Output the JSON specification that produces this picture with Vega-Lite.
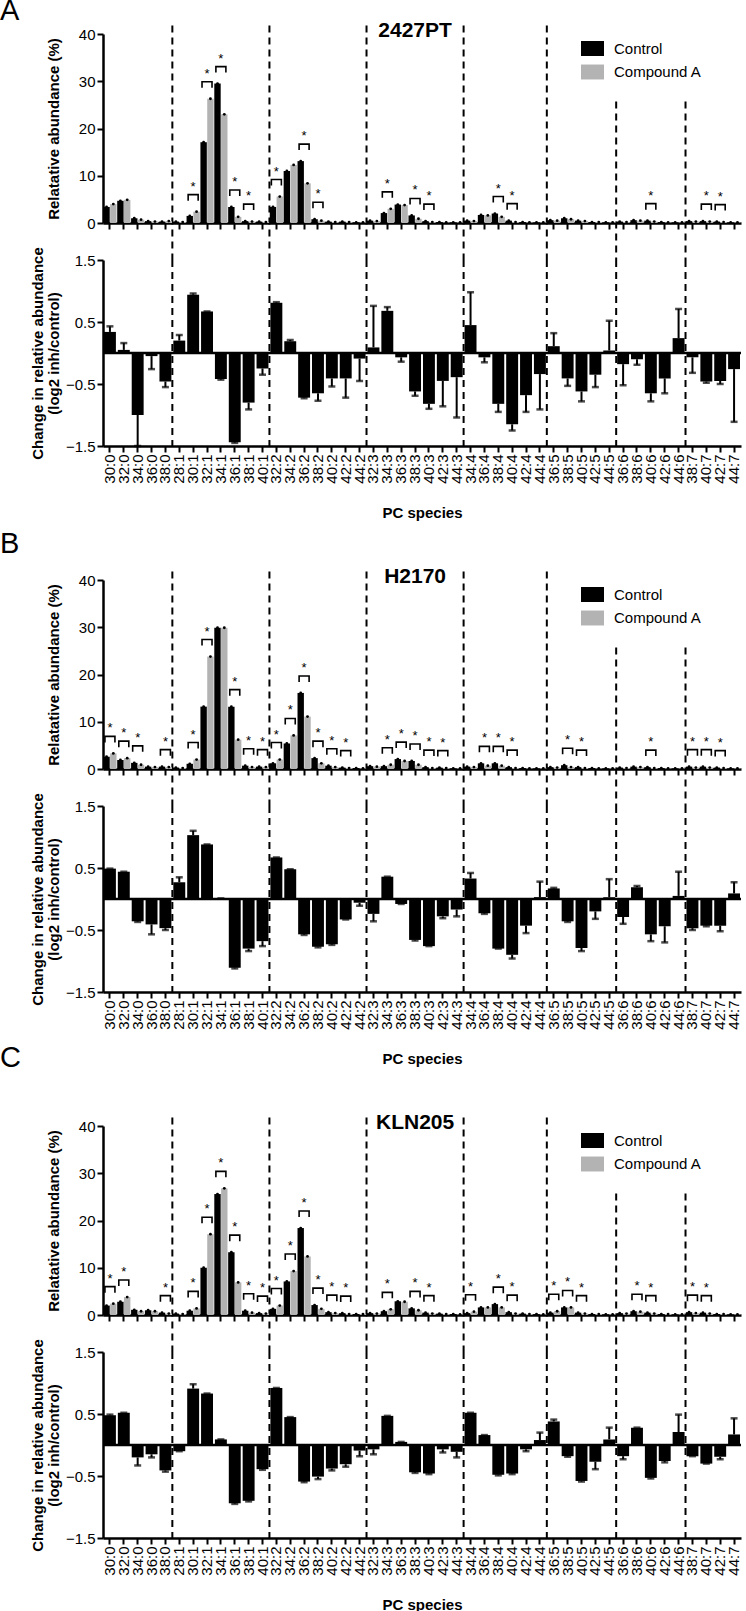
{
"$schema":"https://vega.github.io/schema/vega-lite/v6.json",
"padding":{"top":-4,"left":0,"right":0,"bottom":0},
"background":"white",
"datasets":{
"div":[{"s":"28:1","t":41.8},{"s":"32:2","t":41.8},{"s":"32:3","t":41.8},{"s":"34:4","t":41.8},{"s":"36:5","t":41.8},{"s":"36:6","t":25.7},{"s":"38:7","t":25.7}],
"top":[
{"p":"A","s":"30:0","Control":3.4,"Compound A":4.0,"sig":0},{"p":"A","s":"32:0","Control":4.7,"Compound A":4.9,"sig":0},{"p":"A","s":"34:0","Control":1.0,"Compound A":0.7,"sig":0},{"p":"A","s":"36:0","Control":0.4,"Compound A":0.3,"sig":0},{"p":"A","s":"38:0","Control":0.3,"Compound A":0.4,"sig":0},
{"p":"A","s":"28:1","Control":0.3,"Compound A":0.2,"sig":0},{"p":"A","s":"30:1","Control":1.5,"Compound A":2.4,"sig":1},{"p":"A","s":"32:1","Control":17.1,"Compound A":26.3,"sig":1},{"p":"A","s":"34:1","Control":29.5,"Compound A":23.0,"sig":1},{"p":"A","s":"36:1","Control":3.4,"Compound A":1.3,"sig":1},{"p":"A","s":"38:1","Control":0.4,"Compound A":0.3,"sig":1},{"p":"A","s":"40:1","Control":0.3,"Compound A":0.2,"sig":0},
{"p":"A","s":"32:2","Control":3.4,"Compound A":5.6,"sig":1},{"p":"A","s":"34:2","Control":11.0,"Compound A":12.3,"sig":0},{"p":"A","s":"36:2","Control":13.1,"Compound A":8.4,"sig":1},{"p":"A","s":"38:2","Control":0.8,"Compound A":0.5,"sig":1},{"p":"A","s":"40:2","Control":0.3,"Compound A":0.2,"sig":0},{"p":"A","s":"42:2","Control":0.3,"Compound A":0.2,"sig":0},{"p":"A","s":"44:2","Control":0.1,"Compound A":0.1,"sig":0},
{"p":"A","s":"32:3","Control":0.5,"Compound A":0.4,"sig":0},{"p":"A","s":"34:3","Control":2.1,"Compound A":3.0,"sig":1},{"p":"A","s":"36:3","Control":3.9,"Compound A":3.8,"sig":0},{"p":"A","s":"38:3","Control":1.6,"Compound A":0.9,"sig":1},{"p":"A","s":"40:3","Control":0.4,"Compound A":0.2,"sig":1},{"p":"A","s":"42:3","Control":0.2,"Compound A":0.1,"sig":0},{"p":"A","s":"44:3","Control":0.1,"Compound A":0.1,"sig":0},
{"p":"A","s":"34:4","Control":0.5,"Compound A":0.4,"sig":0},{"p":"A","s":"36:4","Control":1.7,"Compound A":1.6,"sig":0},{"p":"A","s":"38:4","Control":2.0,"Compound A":1.3,"sig":1},{"p":"A","s":"40:4","Control":0.5,"Compound A":0.2,"sig":1},{"p":"A","s":"42:4","Control":0.2,"Compound A":0.1,"sig":0},{"p":"A","s":"44:4","Control":0.1,"Compound A":0.1,"sig":0},
{"p":"A","s":"36:5","Control":0.6,"Compound A":0.5,"sig":0},{"p":"A","s":"38:5","Control":1.0,"Compound A":0.8,"sig":0},{"p":"A","s":"40:5","Control":0.5,"Compound A":0.4,"sig":0},{"p":"A","s":"42:5","Control":0.2,"Compound A":0.2,"sig":0},{"p":"A","s":"44:5","Control":0.1,"Compound A":0.1,"sig":0},
{"p":"A","s":"36:6","Control":0.3,"Compound A":0.2,"sig":0},{"p":"A","s":"38:6","Control":0.6,"Compound A":0.5,"sig":0},{"p":"A","s":"40:6","Control":0.5,"Compound A":0.3,"sig":1},{"p":"A","s":"42:6","Control":0.2,"Compound A":0.1,"sig":0},{"p":"A","s":"44:6","Control":0.1,"Compound A":0.1,"sig":0},
{"p":"A","s":"38:7","Control":0.4,"Compound A":0.3,"sig":0},{"p":"A","s":"40:7","Control":0.4,"Compound A":0.3,"sig":1},{"p":"A","s":"42:7","Control":0.3,"Compound A":0.2,"sig":1},{"p":"A","s":"44:7","Control":0.1,"Compound A":0.1,"sig":0},

{"p":"B","s":"30:0","Control":2.6,"Compound A":3.3,"sig":1},{"p":"B","s":"32:0","Control":1.9,"Compound A":2.3,"sig":1},{"p":"B","s":"34:0","Control":1.3,"Compound A":0.9,"sig":1},{"p":"B","s":"36:0","Control":0.5,"Compound A":0.4,"sig":0},{"p":"B","s":"38:0","Control":0.5,"Compound A":0.4,"sig":1},
{"p":"B","s":"28:1","Control":0.3,"Compound A":0.2,"sig":0},{"p":"B","s":"30:1","Control":1.1,"Compound A":2.0,"sig":1},{"p":"B","s":"32:1","Control":13.2,"Compound A":23.8,"sig":1},{"p":"B","s":"34:1","Control":29.9,"Compound A":29.9,"sig":0},{"p":"B","s":"36:1","Control":13.2,"Compound A":6.2,"sig":1},{"p":"B","s":"38:1","Control":0.7,"Compound A":0.4,"sig":1},{"p":"B","s":"40:1","Control":0.5,"Compound A":0.4,"sig":1},
{"p":"B","s":"32:2","Control":1.2,"Compound A":2.0,"sig":1},{"p":"B","s":"34:2","Control":5.4,"Compound A":7.1,"sig":1},{"p":"B","s":"36:2","Control":16.1,"Compound A":11.1,"sig":1},{"p":"B","s":"38:2","Control":2.3,"Compound A":1.2,"sig":1},{"p":"B","s":"40:2","Control":0.7,"Compound A":0.4,"sig":1},{"p":"B","s":"42:2","Control":0.3,"Compound A":0.2,"sig":1},{"p":"B","s":"44:2","Control":0.2,"Compound A":0.1,"sig":0},
{"p":"B","s":"32:3","Control":0.6,"Compound A":0.5,"sig":0},{"p":"B","s":"34:3","Control":0.6,"Compound A":0.9,"sig":1},{"p":"B","s":"36:3","Control":2.1,"Compound A":1.7,"sig":1},{"p":"B","s":"38:3","Control":1.7,"Compound A":0.9,"sig":1},{"p":"B","s":"40:3","Control":0.4,"Compound A":0.2,"sig":1},{"p":"B","s":"42:3","Control":0.3,"Compound A":0.2,"sig":1},{"p":"B","s":"44:3","Control":0.1,"Compound A":0.1,"sig":0},
{"p":"B","s":"34:4","Control":0.5,"Compound A":0.4,"sig":0},{"p":"B","s":"36:4","Control":1.2,"Compound A":0.7,"sig":1},{"p":"B","s":"38:4","Control":1.2,"Compound A":0.7,"sig":1},{"p":"B","s":"40:4","Control":0.4,"Compound A":0.2,"sig":1},{"p":"B","s":"42:4","Control":0.2,"Compound A":0.1,"sig":0},{"p":"B","s":"44:4","Control":0.1,"Compound A":0.1,"sig":0},
{"p":"B","s":"36:5","Control":0.4,"Compound A":0.3,"sig":0},{"p":"B","s":"38:5","Control":0.8,"Compound A":0.4,"sig":1},{"p":"B","s":"40:5","Control":0.4,"Compound A":0.2,"sig":1},{"p":"B","s":"42:5","Control":0.2,"Compound A":0.1,"sig":0},{"p":"B","s":"44:5","Control":0.1,"Compound A":0.1,"sig":0},
{"p":"B","s":"36:6","Control":0.3,"Compound A":0.2,"sig":0},{"p":"B","s":"38:6","Control":0.5,"Compound A":0.4,"sig":0},{"p":"B","s":"40:6","Control":0.4,"Compound A":0.2,"sig":1},{"p":"B","s":"42:6","Control":0.2,"Compound A":0.1,"sig":0},{"p":"B","s":"44:6","Control":0.1,"Compound A":0.1,"sig":0},
{"p":"B","s":"38:7","Control":0.5,"Compound A":0.3,"sig":1},{"p":"B","s":"40:7","Control":0.5,"Compound A":0.3,"sig":1},{"p":"B","s":"42:7","Control":0.3,"Compound A":0.2,"sig":1},{"p":"B","s":"44:7","Control":0.1,"Compound A":0.1,"sig":0},

{"p":"C","s":"30:0","Control":2.0,"Compound A":2.4,"sig":1},{"p":"C","s":"32:0","Control":2.8,"Compound A":3.8,"sig":1},{"p":"C","s":"34:0","Control":1.1,"Compound A":0.8,"sig":0},{"p":"C","s":"36:0","Control":1.0,"Compound A":0.8,"sig":0},{"p":"C","s":"38:0","Control":0.5,"Compound A":0.3,"sig":1},
{"p":"C","s":"28:1","Control":0.3,"Compound A":0.2,"sig":0},{"p":"C","s":"30:1","Control":0.9,"Compound A":1.4,"sig":1},{"p":"C","s":"32:1","Control":10.0,"Compound A":17.1,"sig":1},{"p":"C","s":"34:1","Control":25.6,"Compound A":26.8,"sig":1},{"p":"C","s":"36:1","Control":13.3,"Compound A":6.9,"sig":1},{"p":"C","s":"38:1","Control":0.9,"Compound A":0.5,"sig":1},{"p":"C","s":"40:1","Control":0.4,"Compound A":0.3,"sig":1},
{"p":"C","s":"32:2","Control":1.3,"Compound A":2.0,"sig":1},{"p":"C","s":"34:2","Control":7.1,"Compound A":9.3,"sig":1},{"p":"C","s":"36:2","Control":18.4,"Compound A":12.4,"sig":1},{"p":"C","s":"38:2","Control":2.1,"Compound A":1.3,"sig":1},{"p":"C","s":"40:2","Control":0.6,"Compound A":0.4,"sig":1},{"p":"C","s":"42:2","Control":0.4,"Compound A":0.2,"sig":1},{"p":"C","s":"44:2","Control":0.2,"Compound A":0.2,"sig":0},
{"p":"C","s":"32:3","Control":0.4,"Compound A":0.3,"sig":0},{"p":"C","s":"34:3","Control":0.8,"Compound A":1.2,"sig":1},{"p":"C","s":"36:3","Control":2.9,"Compound A":2.8,"sig":0},{"p":"C","s":"38:3","Control":1.4,"Compound A":1.0,"sig":1},{"p":"C","s":"40:3","Control":0.5,"Compound A":0.3,"sig":1},{"p":"C","s":"42:3","Control":0.3,"Compound A":0.2,"sig":0},{"p":"C","s":"44:3","Control":0.2,"Compound A":0.1,"sig":0},
{"p":"C","s":"34:4","Control":0.4,"Compound A":0.7,"sig":1},{"p":"C","s":"36:4","Control":1.6,"Compound A":1.6,"sig":0},{"p":"C","s":"38:4","Control":2.3,"Compound A":1.6,"sig":1},{"p":"C","s":"40:4","Control":0.6,"Compound A":0.3,"sig":1},{"p":"C","s":"42:4","Control":0.3,"Compound A":0.2,"sig":0},{"p":"C","s":"44:4","Control":0.2,"Compound A":0.1,"sig":0},
{"p":"C","s":"36:5","Control":0.5,"Compound A":0.8,"sig":1},{"p":"C","s":"38:5","Control":1.6,"Compound A":1.6,"sig":1},{"p":"C","s":"40:5","Control":0.5,"Compound A":0.3,"sig":1},{"p":"C","s":"42:5","Control":0.2,"Compound A":0.2,"sig":0},{"p":"C","s":"44:5","Control":0.1,"Compound A":0.1,"sig":0},
{"p":"C","s":"36:6","Control":0.4,"Compound A":0.3,"sig":0},{"p":"C","s":"38:6","Control":0.8,"Compound A":0.7,"sig":1},{"p":"C","s":"40:6","Control":0.5,"Compound A":0.3,"sig":1},{"p":"C","s":"42:6","Control":0.2,"Compound A":0.2,"sig":0},{"p":"C","s":"44:6","Control":0.1,"Compound A":0.1,"sig":0},
{"p":"C","s":"38:7","Control":0.6,"Compound A":0.4,"sig":1},{"p":"C","s":"40:7","Control":0.5,"Compound A":0.3,"sig":1},{"p":"C","s":"42:7","Control":0.2,"Compound A":0.2,"sig":0},{"p":"C","s":"44:7","Control":0.1,"Compound A":0.1,"sig":0}
],
"chg":[
{"p":"A","s":"30:0","v":0.34,"e":0.43},{"p":"A","s":"32:0","v":0.05,"e":0.16},{"p":"A","s":"34:0","v":-1.0,"e":-1.5},{"p":"A","s":"36:0","v":-0.05,"e":-0.26},{"p":"A","s":"38:0","v":-0.46,"e":-0.55},
{"p":"A","s":"28:1","v":0.2,"e":0.29},{"p":"A","s":"30:1","v":0.94,"e":0.96},{"p":"A","s":"32:1","v":0.67,"e":0.67},{"p":"A","s":"34:1","v":-0.42,"e":-0.43},{"p":"A","s":"36:1","v":-1.44,"e":-1.45},{"p":"A","s":"38:1","v":-0.8,"e":-0.91},{"p":"A","s":"40:1","v":-0.25,"e":-0.35},
{"p":"A","s":"32:2","v":0.81,"e":0.82},{"p":"A","s":"34:2","v":0.19,"e":0.21},{"p":"A","s":"36:2","v":-0.72,"e":-0.73},{"p":"A","s":"38:2","v":-0.65,"e":-0.77},{"p":"A","s":"40:2","v":-0.41,"e":-0.54},{"p":"A","s":"42:2","v":-0.41,"e":-0.72},{"p":"A","s":"44:2","v":-0.09,"e":-0.45},
{"p":"A","s":"32:3","v":0.09,"e":0.76},{"p":"A","s":"34:3","v":0.68,"e":0.74},{"p":"A","s":"36:3","v":-0.07,"e":-0.14},{"p":"A","s":"38:3","v":-0.62,"e":-0.69},{"p":"A","s":"40:3","v":-0.82,"e":-0.9},{"p":"A","s":"42:3","v":-0.45,"e":-0.86},{"p":"A","s":"44:3","v":-0.39,"e":-1.04},
{"p":"A","s":"34:4","v":0.45,"e":0.98},{"p":"A","s":"36:4","v":-0.07,"e":-0.15},{"p":"A","s":"38:4","v":-0.82,"e":-0.95},{"p":"A","s":"40:4","v":-1.15,"e":-1.25},{"p":"A","s":"42:4","v":-0.68,"e":-0.95},{"p":"A","s":"44:4","v":-0.34,"e":-0.91},
{"p":"A","s":"36:5","v":0.11,"e":0.32},{"p":"A","s":"38:5","v":-0.41,"e":-0.53},{"p":"A","s":"40:5","v":-0.62,"e":-0.78},{"p":"A","s":"42:5","v":-0.35,"e":-0.55},{"p":"A","s":"44:5","v":0.04,"e":0.52},
{"p":"A","s":"36:6","v":-0.18,"e":-0.52},{"p":"A","s":"38:6","v":-0.1,"e":-0.19},{"p":"A","s":"40:6","v":-0.65,"e":-0.78},{"p":"A","s":"42:6","v":-0.41,"e":-0.65},{"p":"A","s":"44:6","v":0.24,"e":0.71},
{"p":"A","s":"38:7","v":-0.07,"e":-0.32},{"p":"A","s":"40:7","v":-0.46,"e":-0.48},{"p":"A","s":"42:7","v":-0.45,"e":-0.5},{"p":"A","s":"44:7","v":-0.26,"e":-1.11},

{"p":"B","s":"30:0","v":0.49,"e":0.49},{"p":"B","s":"32:0","v":0.44,"e":0.44},{"p":"B","s":"34:0","v":-0.36,"e":-0.37},{"p":"B","s":"36:0","v":-0.41,"e":-0.57},{"p":"B","s":"38:0","v":-0.47,"e":-0.5},
{"p":"B","s":"28:1","v":0.27,"e":0.35},{"p":"B","s":"30:1","v":1.03,"e":1.1},{"p":"B","s":"32:1","v":0.88,"e":0.88},{"p":"B","s":"34:1","v":0.01,"e":0.01},{"p":"B","s":"36:1","v":-1.11,"e":-1.12},{"p":"B","s":"38:1","v":-0.8,"e":-0.84},{"p":"B","s":"40:1","v":-0.68,"e":-0.76},
{"p":"B","s":"32:2","v":0.67,"e":0.67},{"p":"B","s":"34:2","v":0.48,"e":0.48},{"p":"B","s":"36:2","v":-0.57,"e":-0.58},{"p":"B","s":"38:2","v":-0.77,"e":-0.78},{"p":"B","s":"40:2","v":-0.73,"e":-0.74},{"p":"B","s":"42:2","v":-0.33,"e":-0.33},{"p":"B","s":"44:2","v":-0.06,"e":-0.11},
{"p":"B","s":"32:3","v":-0.24,"e":-0.36},{"p":"B","s":"34:3","v":0.36,"e":0.36},{"p":"B","s":"36:3","v":-0.08,"e":-0.08},{"p":"B","s":"38:3","v":-0.66,"e":-0.67},{"p":"B","s":"40:3","v":-0.76,"e":-0.76},{"p":"B","s":"42:3","v":-0.28,"e":-0.31},{"p":"B","s":"44:3","v":-0.17,"e":-0.28},
{"p":"B","s":"34:4","v":0.33,"e":0.42},{"p":"B","s":"36:4","v":-0.23,"e":-0.24},{"p":"B","s":"38:4","v":-0.8,"e":-0.8},{"p":"B","s":"40:4","v":-0.9,"e":-0.96},{"p":"B","s":"42:4","v":-0.43,"e":-0.55},{"p":"B","s":"44:4","v":0.03,"e":0.28},
{"p":"B","s":"36:5","v":0.17,"e":0.18},{"p":"B","s":"38:5","v":-0.36,"e":-0.37},{"p":"B","s":"40:5","v":-0.79,"e":-0.84},{"p":"B","s":"42:5","v":-0.2,"e":-0.32},{"p":"B","s":"44:5","v":0.03,"e":0.32},
{"p":"B","s":"36:6","v":-0.29,"e":-0.4},{"p":"B","s":"38:6","v":0.19,"e":0.21},{"p":"B","s":"40:6","v":-0.57,"e":-0.68},{"p":"B","s":"42:6","v":-0.44,"e":-0.7},{"p":"B","s":"44:6","v":0.05,"e":0.44},
{"p":"B","s":"38:7","v":-0.47,"e":-0.5},{"p":"B","s":"40:7","v":-0.43,"e":-0.44},{"p":"B","s":"42:7","v":-0.43,"e":-0.52},{"p":"B","s":"44:7","v":0.09,"e":0.27},

{"p":"C","s":"30:0","v":0.48,"e":0.49},{"p":"C","s":"32:0","v":0.52,"e":0.52},{"p":"C","s":"34:0","v":-0.2,"e":-0.33},{"p":"C","s":"36:0","v":-0.15,"e":-0.2},{"p":"C","s":"38:0","v":-0.41,"e":-0.43},
{"p":"C","s":"28:1","v":-0.1,"e":-0.1},{"p":"C","s":"30:1","v":0.91,"e":0.98},{"p":"C","s":"32:1","v":0.83,"e":0.83},{"p":"C","s":"34:1","v":0.09,"e":0.09},{"p":"C","s":"36:1","v":-0.94,"e":-0.95},{"p":"C","s":"38:1","v":-0.9,"e":-0.91},{"p":"C","s":"40:1","v":-0.39,"e":-0.4},
{"p":"C","s":"32:2","v":0.92,"e":0.92},{"p":"C","s":"34:2","v":0.45,"e":0.45},{"p":"C","s":"36:2","v":-0.59,"e":-0.6},{"p":"C","s":"38:2","v":-0.51,"e":-0.55},{"p":"C","s":"40:2","v":-0.38,"e":-0.41},{"p":"C","s":"42:2","v":-0.31,"e":-0.35},{"p":"C","s":"44:2","v":-0.09,"e":-0.18},
{"p":"C","s":"32:3","v":-0.07,"e":-0.15},{"p":"C","s":"34:3","v":0.47,"e":0.47},{"p":"C","s":"36:3","v":0.05,"e":0.05},{"p":"C","s":"38:3","v":-0.44,"e":-0.45},{"p":"C","s":"40:3","v":-0.46,"e":-0.47},{"p":"C","s":"42:3","v":-0.07,"e":-0.12},{"p":"C","s":"44:3","v":-0.11,"e":-0.2},
{"p":"C","s":"34:4","v":0.52,"e":0.52},{"p":"C","s":"36:4","v":0.16,"e":0.16},{"p":"C","s":"38:4","v":-0.48,"e":-0.49},{"p":"C","s":"40:4","v":-0.46,"e":-0.47},{"p":"C","s":"42:4","v":-0.07,"e":-0.1},{"p":"C","s":"44:4","v":0.08,"e":0.2},
{"p":"C","s":"36:5","v":0.38,"e":0.41},{"p":"C","s":"38:5","v":-0.18,"e":-0.19},{"p":"C","s":"40:5","v":-0.58,"e":-0.59},{"p":"C","s":"42:5","v":-0.27,"e":-0.39},{"p":"C","s":"44:5","v":0.09,"e":0.28},
{"p":"C","s":"36:6","v":-0.18,"e":-0.23},{"p":"C","s":"38:6","v":0.28,"e":0.28},{"p":"C","s":"40:6","v":-0.53,"e":-0.54},{"p":"C","s":"42:6","v":-0.26,"e":-0.28},{"p":"C","s":"44:6","v":0.21,"e":0.49},
{"p":"C","s":"38:7","v":-0.18,"e":-0.18},{"p":"C","s":"40:7","v":-0.3,"e":-0.3},{"p":"C","s":"42:7","v":-0.19,"e":-0.23},{"p":"C","s":"44:7","v":0.17,"e":0.43}
]
},
"spacing":37,
"bounds":"flush",
"resolve":{"scale":{"x":"independent","y":"independent","color":"independent"},"legend":{"color":"independent"}},
"vconcat":[
 {"width":638,"height":189,
  "title":{"text":"A","anchor":"start","frame":"group","fontSize":29,"fontWeight":"normal","dx":-103,"offset":-6},
  "encoding":{"x":{"field":"s","type":"nominal","sort":null,"scale":{"domain":["30:0","32:0","34:0","36:0","38:0","28:1","30:1","32:1","34:1","36:1","38:1","40:1","32:2","34:2","36:2","38:2","40:2","42:2","44:2","32:3","34:3","36:3","38:3","40:3","42:3","44:3","34:4","36:4","38:4","40:4","42:4","44:4","36:5","38:5","40:5","42:5","44:5","36:6","38:6","40:6","42:6","44:6","38:7","40:7","42:7","44:7"],"paddingInner":0,"paddingOuter":0},"axis":{"labels":false,"title":null}}},
  "layer":[
   {"data":{"name":"div"},"mark":{"type":"rule","strokeDash":[7,5],"strokeWidth":2,"color":"#000"},
    "encoding":{"x":{"field":"s","type":"nominal","sort":null,"bandPosition":0,"scale":{"domain":["30:0","32:0","34:0","36:0","38:0","28:1","30:1","32:1","34:1","36:1","38:1","40:1","32:2","34:2","36:2","38:2","40:2","42:2","44:2","32:3","34:3","36:3","38:3","40:3","42:3","44:3","34:4","36:4","38:4","40:4","42:4","44:4","36:5","38:5","40:5","42:5","44:5","36:6","38:6","40:6","42:6","44:6","38:7","40:7","42:7","44:7"],"paddingInner":0,"paddingOuter":0}},
     "y":{"field":"t","type":"quantitative","scale":{"domain":[0,40],"nice":false}},"y2":{"datum":-7.83}}},
   {"data":{"name":"top"},"transform":[{"filter":"datum.p==='A'"},{"fold":["Control","Compound A"],"as":["g","v"]}],
    "mark":{"type":"bar"},
    "encoding":{"xOffset":{"field":"g","type":"nominal","scale":{"domain":["Control","Compound A"],"paddingInner":0.06,"paddingOuter":0.05}},
     "y":{"field":"v","type":"quantitative","scale":{"domain":[0,40],"nice":false},"axis":{"values":[0,10,20,30,40],"title":"Relatative abundance (%)","titlePadding":17,"labelOverlap":false}},
     "color":{"field":"g","type":"nominal","scale":{"domain":["Control","Compound A"],"range":["#000000","#b3b3b3"]},"legend":{"title":null,"orient":"none","legendX":478,"legendY":3,"symbolType":"M-1,-0.65H1V0.65H-1Z","symbolSize":529,"labelFontSize":15,"labelOffset":10,"rowPadding":3.5,"symbolStrokeWidth":0}}}},
   {"data":{"name":"top"},"transform":[{"filter":"datum.p==='A'"},{"fold":["Control","Compound A"],"as":["g","v"]}],
    "mark":{"type":"point","filled":true,"size":8,"color":"#000","opacity":1},
    "encoding":{"xOffset":{"field":"g","type":"nominal","scale":{"domain":["Control","Compound A"],"paddingInner":0.06,"paddingOuter":0.05}},
     "y":{"field":"v","type":"quantitative","scale":{"domain":[0,40],"nice":false}}}},
   {"data":{"name":"top"},"transform":[{"filter":"datum.p==='A' && datum.sig==1"},{"fold":["Control","Compound A"],"as":["g","v"]},{"aggregate":[{"op":"max","field":"v","as":"m"}],"groupby":["s"]}],
    "mark":{"type":"point","shape":"M-1,1V-0.2H1V1","filled":false,"color":"#000","strokeWidth":1.6,"size":100,"yOffset":-16,"opacity":1},
    "encoding":{"y":{"field":"m","type":"quantitative","scale":{"domain":[0,40],"nice":false}}}},
   {"data":{"name":"top"},"transform":[{"filter":"datum.p==='A' && datum.sig==1"},{"fold":["Control","Compound A"],"as":["g","v"]},{"aggregate":[{"op":"max","field":"v","as":"m"}],"groupby":["s"]}],
    "mark":{"type":"text","text":"*","fontSize":13,"baseline":"alphabetic","dy":-21,"color":"#000"},
    "encoding":{"y":{"field":"m","type":"quantitative","scale":{"domain":[0,40],"nice":false}}}},
   {"data":{"values":[{"s":"38:3","n":"2427PT"}]},
    "mark":{"type":"text","fontSize":21,"fontWeight":"bold","baseline":"alphabetic","dy":2.5,"color":"#000"},
    "encoding":{"text":{"field":"n"},"y":{"datum":40,"type":"quantitative","scale":{"domain":[0,40],"nice":false}}}}
  ]},
 {"width":638,"height":186,
  "layer":[
   {"data":{"name":"div"},"mark":{"type":"rule","strokeDash":[7,5],"strokeWidth":2,"color":"#000"},
    "encoding":{"x":{"field":"s","type":"nominal","sort":null,"bandPosition":0,"scale":{"domain":["30:0","32:0","34:0","36:0","38:0","28:1","30:1","32:1","34:1","36:1","38:1","40:1","32:2","34:2","36:2","38:2","40:2","42:2","44:2","32:3","34:3","36:3","38:3","40:3","42:3","44:3","34:4","36:4","38:4","40:4","42:4","44:4","36:5","38:5","40:5","42:5","44:5","36:6","38:6","40:6","42:6","44:6","38:7","40:7","42:7","44:7"],"paddingInner":0,"paddingOuter":0}},
     "y":{"datum":1.5,"type":"quantitative","scale":{"domain":[-1.5,1.5],"nice":false}},"y2":{"datum":-1.55}}},
   {"data":{"name":"chg"},"transform":[{"filter":"datum.p==='A'"}],"mark":{"type":"bar","color":"#000","width":{"band":0.86}},
    "encoding":{"x":{"field":"s","type":"nominal","sort":null,"scale":{"domain":["30:0","32:0","34:0","36:0","38:0","28:1","30:1","32:1","34:1","36:1","38:1","40:1","32:2","34:2","36:2","38:2","40:2","42:2","44:2","32:3","34:3","36:3","38:3","40:3","42:3","44:3","34:4","36:4","38:4","40:4","42:4","44:4","36:5","38:5","40:5","42:5","44:5","36:6","38:6","40:6","42:6","44:6","38:7","40:7","42:7","44:7"],"paddingInner":0,"paddingOuter":0},"axis":{"labelAngle":270,"labelOverlap":false,"title":"PC species","titlePadding":22}},
     "y":{"field":"v","type":"quantitative","scale":{"domain":[-1.5,1.5],"nice":false},"axis":{"values":[-1.5,-1,-0.5,0,0.5,1,1.5],"format":".1f","labelOverlap":false,"title":["Change in relative abundance","(log2 inh/control)"],"titlePadding":4,"titleLineHeight":16}}}},
   {"data":{"name":"chg"},"transform":[{"filter":"datum.p==='A'"}],"mark":{"type":"rule","color":"#000","strokeWidth":2},
    "encoding":{"x":{"field":"s","type":"nominal","sort":null,"scale":{"domain":["30:0","32:0","34:0","36:0","38:0","28:1","30:1","32:1","34:1","36:1","38:1","40:1","32:2","34:2","36:2","38:2","40:2","42:2","44:2","32:3","34:3","36:3","38:3","40:3","42:3","44:3","34:4","36:4","38:4","40:4","42:4","44:4","36:5","38:5","40:5","42:5","44:5","36:6","38:6","40:6","42:6","44:6","38:7","40:7","42:7","44:7"],"paddingInner":0,"paddingOuter":0}},
     "y":{"field":"v","type":"quantitative","scale":{"domain":[-1.5,1.5],"nice":false}},"y2":{"field":"e"}}},
   {"data":{"name":"chg"},"transform":[{"filter":"datum.p==='A'"}],"mark":{"type":"tick","color":"#000","thickness":2.5,"size":7},
    "encoding":{"x":{"field":"s","type":"nominal","sort":null,"scale":{"domain":["30:0","32:0","34:0","36:0","38:0","28:1","30:1","32:1","34:1","36:1","38:1","40:1","32:2","34:2","36:2","38:2","40:2","42:2","44:2","32:3","34:3","36:3","38:3","40:3","42:3","44:3","34:4","36:4","38:4","40:4","42:4","44:4","36:5","38:5","40:5","42:5","44:5","36:6","38:6","40:6","42:6","44:6","38:7","40:7","42:7","44:7"],"paddingInner":0,"paddingOuter":0}},
     "y":{"field":"e","type":"quantitative","scale":{"domain":[-1.5,1.5],"nice":false}}}},
   {"data":{"values":[{}]},"mark":{"type":"rule","color":"#000","strokeWidth":2.5},
    "encoding":{"y":{"datum":0,"type":"quantitative","scale":{"domain":[-1.5,1.5],"nice":false}}}}
  ]},
 {"width":638,"height":60,"data":{"values":[{}]},"mark":{"type":"point","opacity":0},"encoding":{}},
 {"width":638,"height":189,
  "title":{"text":"B","anchor":"start","frame":"group","fontSize":29,"fontWeight":"normal","dx":-103,"offset":7},
  "encoding":{"x":{"field":"s","type":"nominal","sort":null,"scale":{"domain":["30:0","32:0","34:0","36:0","38:0","28:1","30:1","32:1","34:1","36:1","38:1","40:1","32:2","34:2","36:2","38:2","40:2","42:2","44:2","32:3","34:3","36:3","38:3","40:3","42:3","44:3","34:4","36:4","38:4","40:4","42:4","44:4","36:5","38:5","40:5","42:5","44:5","36:6","38:6","40:6","42:6","44:6","38:7","40:7","42:7","44:7"],"paddingInner":0,"paddingOuter":0},"axis":{"labels":false,"title":null}}},
  "layer":[
   {"data":{"name":"div"},"mark":{"type":"rule","strokeDash":[7,5],"strokeWidth":2,"color":"#000"},
    "encoding":{"x":{"field":"s","type":"nominal","sort":null,"bandPosition":0,"scale":{"domain":["30:0","32:0","34:0","36:0","38:0","28:1","30:1","32:1","34:1","36:1","38:1","40:1","32:2","34:2","36:2","38:2","40:2","42:2","44:2","32:3","34:3","36:3","38:3","40:3","42:3","44:3","34:4","36:4","38:4","40:4","42:4","44:4","36:5","38:5","40:5","42:5","44:5","36:6","38:6","40:6","42:6","44:6","38:7","40:7","42:7","44:7"],"paddingInner":0,"paddingOuter":0}},
     "y":{"field":"t","type":"quantitative","scale":{"domain":[0,40],"nice":false}},"y2":{"datum":-7.83}}},
   {"data":{"name":"top"},"transform":[{"filter":"datum.p==='B'"},{"fold":["Control","Compound A"],"as":["g","v"]}],
    "mark":{"type":"bar"},
    "encoding":{"xOffset":{"field":"g","type":"nominal","scale":{"domain":["Control","Compound A"],"paddingInner":0.06,"paddingOuter":0.05}},
     "y":{"field":"v","type":"quantitative","scale":{"domain":[0,40],"nice":false},"axis":{"values":[0,10,20,30,40],"title":"Relatative abundance (%)","titlePadding":17,"labelOverlap":false}},
     "color":{"field":"g","type":"nominal","scale":{"domain":["Control","Compound A"],"range":["#000000","#b3b3b3"]},"legend":{"title":null,"orient":"none","legendX":478,"legendY":3,"symbolType":"M-1,-0.65H1V0.65H-1Z","symbolSize":529,"labelFontSize":15,"labelOffset":10,"rowPadding":3.5,"symbolStrokeWidth":0}}}},
   {"data":{"name":"top"},"transform":[{"filter":"datum.p==='B'"},{"fold":["Control","Compound A"],"as":["g","v"]}],
    "mark":{"type":"point","filled":true,"size":8,"color":"#000","opacity":1},
    "encoding":{"xOffset":{"field":"g","type":"nominal","scale":{"domain":["Control","Compound A"],"paddingInner":0.06,"paddingOuter":0.05}},
     "y":{"field":"v","type":"quantitative","scale":{"domain":[0,40],"nice":false}}}},
   {"data":{"name":"top"},"transform":[{"filter":"datum.p==='B' && datum.sig==1"},{"fold":["Control","Compound A"],"as":["g","v"]},{"aggregate":[{"op":"max","field":"v","as":"m"}],"groupby":["s"]}],
    "mark":{"type":"point","shape":"M-1,1V-0.2H1V1","filled":false,"color":"#000","strokeWidth":1.6,"size":100,"yOffset":-16,"opacity":1},
    "encoding":{"y":{"field":"m","type":"quantitative","scale":{"domain":[0,40],"nice":false}}}},
   {"data":{"name":"top"},"transform":[{"filter":"datum.p==='B' && datum.sig==1"},{"fold":["Control","Compound A"],"as":["g","v"]},{"aggregate":[{"op":"max","field":"v","as":"m"}],"groupby":["s"]}],
    "mark":{"type":"text","text":"*","fontSize":13,"baseline":"alphabetic","dy":-21,"color":"#000"},
    "encoding":{"y":{"field":"m","type":"quantitative","scale":{"domain":[0,40],"nice":false}}}},
   {"data":{"values":[{"s":"38:3","n":"H2170"}]},
    "mark":{"type":"text","fontSize":21,"fontWeight":"bold","baseline":"alphabetic","dy":2.5,"color":"#000"},
    "encoding":{"text":{"field":"n"},"y":{"datum":40,"type":"quantitative","scale":{"domain":[0,40],"nice":false}}}}
  ]},
 {"width":638,"height":186,
  "layer":[
   {"data":{"name":"div"},"mark":{"type":"rule","strokeDash":[7,5],"strokeWidth":2,"color":"#000"},
    "encoding":{"x":{"field":"s","type":"nominal","sort":null,"bandPosition":0,"scale":{"domain":["30:0","32:0","34:0","36:0","38:0","28:1","30:1","32:1","34:1","36:1","38:1","40:1","32:2","34:2","36:2","38:2","40:2","42:2","44:2","32:3","34:3","36:3","38:3","40:3","42:3","44:3","34:4","36:4","38:4","40:4","42:4","44:4","36:5","38:5","40:5","42:5","44:5","36:6","38:6","40:6","42:6","44:6","38:7","40:7","42:7","44:7"],"paddingInner":0,"paddingOuter":0}},
     "y":{"datum":1.5,"type":"quantitative","scale":{"domain":[-1.5,1.5],"nice":false}},"y2":{"datum":-1.55}}},
   {"data":{"name":"chg"},"transform":[{"filter":"datum.p==='B'"}],"mark":{"type":"bar","color":"#000","width":{"band":0.86}},
    "encoding":{"x":{"field":"s","type":"nominal","sort":null,"scale":{"domain":["30:0","32:0","34:0","36:0","38:0","28:1","30:1","32:1","34:1","36:1","38:1","40:1","32:2","34:2","36:2","38:2","40:2","42:2","44:2","32:3","34:3","36:3","38:3","40:3","42:3","44:3","34:4","36:4","38:4","40:4","42:4","44:4","36:5","38:5","40:5","42:5","44:5","36:6","38:6","40:6","42:6","44:6","38:7","40:7","42:7","44:7"],"paddingInner":0,"paddingOuter":0},"axis":{"labelAngle":270,"labelOverlap":false,"title":"PC species","titlePadding":22}},
     "y":{"field":"v","type":"quantitative","scale":{"domain":[-1.5,1.5],"nice":false},"axis":{"values":[-1.5,-1,-0.5,0,0.5,1,1.5],"format":".1f","labelOverlap":false,"title":["Change in relative abundance","(log2 inh/control)"],"titlePadding":4,"titleLineHeight":16}}}},
   {"data":{"name":"chg"},"transform":[{"filter":"datum.p==='B'"}],"mark":{"type":"rule","color":"#000","strokeWidth":2},
    "encoding":{"x":{"field":"s","type":"nominal","sort":null,"scale":{"domain":["30:0","32:0","34:0","36:0","38:0","28:1","30:1","32:1","34:1","36:1","38:1","40:1","32:2","34:2","36:2","38:2","40:2","42:2","44:2","32:3","34:3","36:3","38:3","40:3","42:3","44:3","34:4","36:4","38:4","40:4","42:4","44:4","36:5","38:5","40:5","42:5","44:5","36:6","38:6","40:6","42:6","44:6","38:7","40:7","42:7","44:7"],"paddingInner":0,"paddingOuter":0}},
     "y":{"field":"v","type":"quantitative","scale":{"domain":[-1.5,1.5],"nice":false}},"y2":{"field":"e"}}},
   {"data":{"name":"chg"},"transform":[{"filter":"datum.p==='B'"}],"mark":{"type":"tick","color":"#000","thickness":2.5,"size":7},
    "encoding":{"x":{"field":"s","type":"nominal","sort":null,"scale":{"domain":["30:0","32:0","34:0","36:0","38:0","28:1","30:1","32:1","34:1","36:1","38:1","40:1","32:2","34:2","36:2","38:2","40:2","42:2","44:2","32:3","34:3","36:3","38:3","40:3","42:3","44:3","34:4","36:4","38:4","40:4","42:4","44:4","36:5","38:5","40:5","42:5","44:5","36:6","38:6","40:6","42:6","44:6","38:7","40:7","42:7","44:7"],"paddingInner":0,"paddingOuter":0}},
     "y":{"field":"e","type":"quantitative","scale":{"domain":[-1.5,1.5],"nice":false}}}},
   {"data":{"values":[{}]},"mark":{"type":"rule","color":"#000","strokeWidth":2.5},
    "encoding":{"y":{"datum":0,"type":"quantitative","scale":{"domain":[-1.5,1.5],"nice":false}}}}
  ]},
 {"width":638,"height":60,"data":{"values":[{}]},"mark":{"type":"point","opacity":0},"encoding":{}},
 {"width":638,"height":189,
  "title":{"text":"C","anchor":"start","frame":"group","fontSize":29,"fontWeight":"normal","dx":-103,"dy":-8,"offset":31},
  "encoding":{"x":{"field":"s","type":"nominal","sort":null,"scale":{"domain":["30:0","32:0","34:0","36:0","38:0","28:1","30:1","32:1","34:1","36:1","38:1","40:1","32:2","34:2","36:2","38:2","40:2","42:2","44:2","32:3","34:3","36:3","38:3","40:3","42:3","44:3","34:4","36:4","38:4","40:4","42:4","44:4","36:5","38:5","40:5","42:5","44:5","36:6","38:6","40:6","42:6","44:6","38:7","40:7","42:7","44:7"],"paddingInner":0,"paddingOuter":0},"axis":{"labels":false,"title":null}}},
  "layer":[
   {"data":{"name":"div"},"mark":{"type":"rule","strokeDash":[7,5],"strokeWidth":2,"color":"#000"},
    "encoding":{"x":{"field":"s","type":"nominal","sort":null,"bandPosition":0,"scale":{"domain":["30:0","32:0","34:0","36:0","38:0","28:1","30:1","32:1","34:1","36:1","38:1","40:1","32:2","34:2","36:2","38:2","40:2","42:2","44:2","32:3","34:3","36:3","38:3","40:3","42:3","44:3","34:4","36:4","38:4","40:4","42:4","44:4","36:5","38:5","40:5","42:5","44:5","36:6","38:6","40:6","42:6","44:6","38:7","40:7","42:7","44:7"],"paddingInner":0,"paddingOuter":0}},
     "y":{"field":"t","type":"quantitative","scale":{"domain":[0,40],"nice":false}},"y2":{"datum":-7.83}}},
   {"data":{"name":"top"},"transform":[{"filter":"datum.p==='C'"},{"fold":["Control","Compound A"],"as":["g","v"]}],
    "mark":{"type":"bar"},
    "encoding":{"xOffset":{"field":"g","type":"nominal","scale":{"domain":["Control","Compound A"],"paddingInner":0.06,"paddingOuter":0.05}},
     "y":{"field":"v","type":"quantitative","scale":{"domain":[0,40],"nice":false},"axis":{"values":[0,10,20,30,40],"title":"Relatative abundance (%)","titlePadding":17,"labelOverlap":false}},
     "color":{"field":"g","type":"nominal","scale":{"domain":["Control","Compound A"],"range":["#000000","#b3b3b3"]},"legend":{"title":null,"orient":"none","legendX":478,"legendY":3,"symbolType":"M-1,-0.65H1V0.65H-1Z","symbolSize":529,"labelFontSize":15,"labelOffset":10,"rowPadding":3.5,"symbolStrokeWidth":0}}}},
   {"data":{"name":"top"},"transform":[{"filter":"datum.p==='C'"},{"fold":["Control","Compound A"],"as":["g","v"]}],
    "mark":{"type":"point","filled":true,"size":8,"color":"#000","opacity":1},
    "encoding":{"xOffset":{"field":"g","type":"nominal","scale":{"domain":["Control","Compound A"],"paddingInner":0.06,"paddingOuter":0.05}},
     "y":{"field":"v","type":"quantitative","scale":{"domain":[0,40],"nice":false}}}},
   {"data":{"name":"top"},"transform":[{"filter":"datum.p==='C' && datum.sig==1"},{"fold":["Control","Compound A"],"as":["g","v"]},{"aggregate":[{"op":"max","field":"v","as":"m"}],"groupby":["s"]}],
    "mark":{"type":"point","shape":"M-1,1V-0.2H1V1","filled":false,"color":"#000","strokeWidth":1.6,"size":100,"yOffset":-16,"opacity":1},
    "encoding":{"y":{"field":"m","type":"quantitative","scale":{"domain":[0,40],"nice":false}}}},
   {"data":{"name":"top"},"transform":[{"filter":"datum.p==='C' && datum.sig==1"},{"fold":["Control","Compound A"],"as":["g","v"]},{"aggregate":[{"op":"max","field":"v","as":"m"}],"groupby":["s"]}],
    "mark":{"type":"text","text":"*","fontSize":13,"baseline":"alphabetic","dy":-21,"color":"#000"},
    "encoding":{"y":{"field":"m","type":"quantitative","scale":{"domain":[0,40],"nice":false}}}},
   {"data":{"values":[{"s":"38:3","n":"KLN205"}]},
    "mark":{"type":"text","fontSize":21,"fontWeight":"bold","baseline":"alphabetic","dy":2.5,"color":"#000"},
    "encoding":{"text":{"field":"n"},"y":{"datum":40,"type":"quantitative","scale":{"domain":[0,40],"nice":false}}}}
  ]},
 {"width":638,"height":186,
  "layer":[
   {"data":{"name":"div"},"mark":{"type":"rule","strokeDash":[7,5],"strokeWidth":2,"color":"#000"},
    "encoding":{"x":{"field":"s","type":"nominal","sort":null,"bandPosition":0,"scale":{"domain":["30:0","32:0","34:0","36:0","38:0","28:1","30:1","32:1","34:1","36:1","38:1","40:1","32:2","34:2","36:2","38:2","40:2","42:2","44:2","32:3","34:3","36:3","38:3","40:3","42:3","44:3","34:4","36:4","38:4","40:4","42:4","44:4","36:5","38:5","40:5","42:5","44:5","36:6","38:6","40:6","42:6","44:6","38:7","40:7","42:7","44:7"],"paddingInner":0,"paddingOuter":0}},
     "y":{"datum":1.5,"type":"quantitative","scale":{"domain":[-1.5,1.5],"nice":false}},"y2":{"datum":-1.55}}},
   {"data":{"name":"chg"},"transform":[{"filter":"datum.p==='C'"}],"mark":{"type":"bar","color":"#000","width":{"band":0.86}},
    "encoding":{"x":{"field":"s","type":"nominal","sort":null,"scale":{"domain":["30:0","32:0","34:0","36:0","38:0","28:1","30:1","32:1","34:1","36:1","38:1","40:1","32:2","34:2","36:2","38:2","40:2","42:2","44:2","32:3","34:3","36:3","38:3","40:3","42:3","44:3","34:4","36:4","38:4","40:4","42:4","44:4","36:5","38:5","40:5","42:5","44:5","36:6","38:6","40:6","42:6","44:6","38:7","40:7","42:7","44:7"],"paddingInner":0,"paddingOuter":0},"axis":{"labelAngle":270,"labelOverlap":false,"title":"PC species","titlePadding":22}},
     "y":{"field":"v","type":"quantitative","scale":{"domain":[-1.5,1.5],"nice":false},"axis":{"values":[-1.5,-1,-0.5,0,0.5,1,1.5],"format":".1f","labelOverlap":false,"title":["Change in relative abundance","(log2 inh/control)"],"titlePadding":4,"titleLineHeight":16}}}},
   {"data":{"name":"chg"},"transform":[{"filter":"datum.p==='C'"}],"mark":{"type":"rule","color":"#000","strokeWidth":2},
    "encoding":{"x":{"field":"s","type":"nominal","sort":null,"scale":{"domain":["30:0","32:0","34:0","36:0","38:0","28:1","30:1","32:1","34:1","36:1","38:1","40:1","32:2","34:2","36:2","38:2","40:2","42:2","44:2","32:3","34:3","36:3","38:3","40:3","42:3","44:3","34:4","36:4","38:4","40:4","42:4","44:4","36:5","38:5","40:5","42:5","44:5","36:6","38:6","40:6","42:6","44:6","38:7","40:7","42:7","44:7"],"paddingInner":0,"paddingOuter":0}},
     "y":{"field":"v","type":"quantitative","scale":{"domain":[-1.5,1.5],"nice":false}},"y2":{"field":"e"}}},
   {"data":{"name":"chg"},"transform":[{"filter":"datum.p==='C'"}],"mark":{"type":"tick","color":"#000","thickness":2.5,"size":7},
    "encoding":{"x":{"field":"s","type":"nominal","sort":null,"scale":{"domain":["30:0","32:0","34:0","36:0","38:0","28:1","30:1","32:1","34:1","36:1","38:1","40:1","32:2","34:2","36:2","38:2","40:2","42:2","44:2","32:3","34:3","36:3","38:3","40:3","42:3","44:3","34:4","36:4","38:4","40:4","42:4","44:4","36:5","38:5","40:5","42:5","44:5","36:6","38:6","40:6","42:6","44:6","38:7","40:7","42:7","44:7"],"paddingInner":0,"paddingOuter":0}},
     "y":{"field":"e","type":"quantitative","scale":{"domain":[-1.5,1.5],"nice":false}}}},
   {"data":{"values":[{}]},"mark":{"type":"rule","color":"#000","strokeWidth":2.5},
    "encoding":{"y":{"datum":0,"type":"quantitative","scale":{"domain":[-1.5,1.5],"nice":false}}}}
  ]}
],
"config":{
 "font":"Liberation Sans",
 "view":{"stroke":null},
 "axis":{"domainColor":"#000","domainWidth":2.5,"tickColor":"#000","tickWidth":2,"tickSize":6,"labelColor":"#000","labelFontSize":15,"labelFont":"Liberation Sans","titleFont":"Liberation Sans","titleFontSize":15,"titleFontWeight":"bold","titleColor":"#000","grid":false,"labelPadding":2},
 "legend":{"labelFont":"Liberation Sans","labelFontSize":15,"labelColor":"#000"},
 "title":{"font":"Liberation Sans","color":"#000"}
}
}
